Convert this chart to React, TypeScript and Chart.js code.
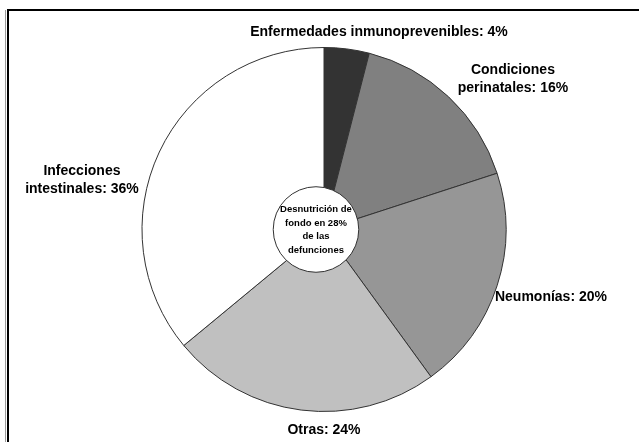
import React, { useEffect, useRef } from "react";
import { Chart, registerables } from "chart.js";

Chart.register(...registerables);

const categories = [
  "Enfermedades inmunoprevenibles",
  "Condiciones perinatales",
  "Neumonías",
  "Otras",
  "Infecciones intestinales",
];
const values = [4, 16, 20, 24, 36];
const labelLines = [
  ["Enfermedades inmunoprevenibles: 4%"],
  ["Condiciones", "perinatales: 16%"],
  ["Neumonías: 20%"],
  ["Otras: 24%"],
  ["Infecciones", "intestinales: 36%"],
];
const sliceColors = ["#333333", "#808080", "#969696", "#c0c0c0", "#ffffff"];
const centerText = ["Desnutrición de", "fondo en 28%", "de las", "defunciones"];

// label anchors relative to pie centre, in units of the outer radius
const labelOffsets = [
  [0.302, -1.082],
  [1.038, -0.824],
  [1.247, 0.374],
  [0.0, 1.104],
  [-1.33, -0.269],
];

const framePlugin = {
  id: "frame",
  beforeDraw(chart: any) {
    const ctx = chart.ctx;
    ctx.save();
    ctx.fillStyle = "#ffffff";
    ctx.fillRect(0, 0, chart.width, chart.height);
    ctx.fillStyle = "#9a9a9a";
    ctx.fillRect(5, 10, 1, chart.height - 10);
    ctx.fillStyle = "#000000";
    ctx.fillRect(7, 9, chart.width - 7, 2);
    ctx.fillRect(7, 9, 2, chart.height - 9);
    ctx.restore();
  },
};

const labelsPlugin = {
  id: "sliceLabels",
  afterDatasetsDraw(chart: any) {
    const ctx = chart.ctx;
    const meta = chart.getDatasetMeta(0);
    const arc0 = meta.data[0] as any;
    const cx = arc0.x;
    const cy = arc0.y;
    const r = arc0.outerRadius;
    ctx.save();
    // centre circle
    const ccx = cx - 0.044 * r;
    const ccy = cy;
    const cr = 0.235 * r;
    ctx.beginPath();
    ctx.arc(ccx, ccy, cr, 0, Math.PI * 2);
    ctx.fillStyle = "#ffffff";
    ctx.fill();
    ctx.lineWidth = 1;
    ctx.strokeStyle = "#333333";
    ctx.stroke();
    ctx.fillStyle = "#000000";
    ctx.textAlign = "center";
    ctx.textBaseline = "middle";
    ctx.font = "bold 9.5px 'Liberation Sans', Arial, sans-serif";
    const lh = 13.7;
    const ty = ccy + 0.5 - ((centerText.length - 1) * lh) / 2;
    centerText.forEach((t, i) => ctx.fillText(t, ccx, ty + i * lh));

    // slice labels
    ctx.font = "bold 14px 'Liberation Sans', Arial, sans-serif";
    meta.data.forEach((_: any, i: number) => {
      const lines = labelLines[i];
      const lx = cx + labelOffsets[i][0] * r;
      const ly = cy + labelOffsets[i][1] * r;
      const h = 18;
      const start = ly - ((lines.length - 1) * h) / 2;
      lines.forEach((t, j) => ctx.fillText(t, lx, start + j * h));
    });
    ctx.restore();
  },
};

export default function App() {
  const ref = useRef<HTMLCanvasElement>(null);
  useEffect(() => {
    document.body.style.margin = "0";
    const chart = new Chart(ref.current!, {
      type: "pie",
      data: {
        labels: categories,
        datasets: [
          {
            data: values,
            backgroundColor: sliceColors,
            borderColor: "#333333",
            borderWidth: 1,
          },
        ],
      },
      options: {
        animation: false,
        responsive: false,
        layout: { padding: { top: 47, bottom: 30, left: 100, right: 91 } },
        plugins: {
          legend: { display: false },
          tooltip: { enabled: false },
        },
      },
      plugins: [framePlugin, labelsPlugin],
    });
    return () => chart.destroy();
  }, []);
  return (
    <div style={{ width: 639, height: 442 }}>
      <canvas ref={ref} width={639} height={442} style={{ display: "block" }} />
    </div>
  );
}
